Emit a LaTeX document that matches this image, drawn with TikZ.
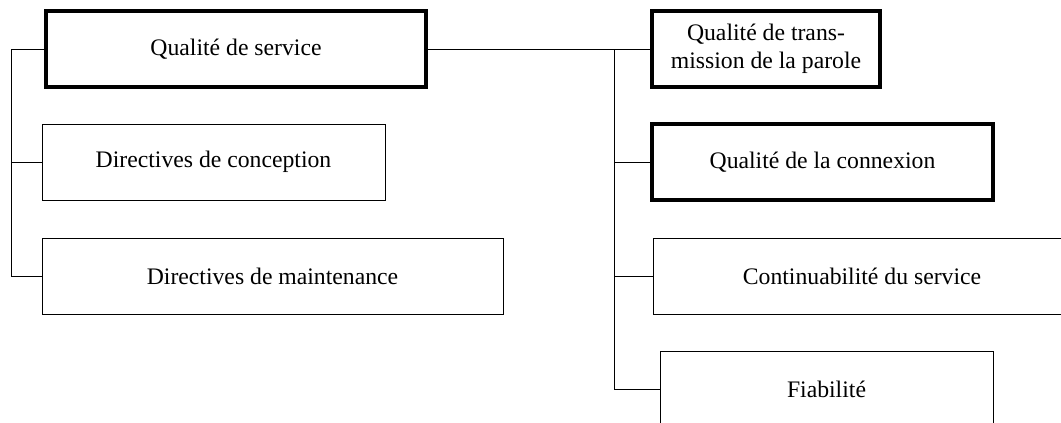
\documentclass[tikz,border=0pt]{standalone}
\usepackage{fontspec}
\setmainfont{Liberation Serif}
\usepackage{tikz}

\tikzset{
  boxthin/.style={draw=black, line width=0.5pt, rectangle, inner sep=0pt,
    minimum height=38pt, align=center, font=\fontsize{11.85}{14}\selectfont},
  boxthick/.style={boxthin, line width=1.6pt},
  link/.style={draw=black, line width=0.5pt}
}

\begin{document}
\begin{tikzpicture}[x=0.5pt,y=-0.5pt]
                \useasboundingbox (0,0) rectangle (1061,423);
                \clip (0,0) rectangle (1061,423);
                % left group
                \node [boxthick, minimum width=190pt] (qos) at (236,49) {Qualit\'e de service};
                \node [boxthin, minimum width=171.5pt] (dirc) at (213.5,162) {Directives de conception};
                \node [boxthin, minimum width=230.5pt] (dirm) at (272.5,276) {Directives de maintenance};
                % right group
                \node [boxthick, minimum width=114pt] (qtp) at (766,49) {Qualit\'e de trans-\\mission de la parole};
                \node [boxthick, minimum width=170.5pt] (qcx) at (822.5,162) {Qualit\'e de la connexion};
                \node [boxthin, minimum width=209pt] (cont) at (862,276) {Continuabilit\'e du service};
                \node [boxthin, minimum width=166.5pt] (fiab) at (826.5,389) {Fiabilit\'e};
                % trunks
                \coordinate (ltrunk) at (11,49);
                \coordinate (rtrunk) at (614,49);
                \draw [link] (qos.west) -- (ltrunk) |- (dirm.west);
                \draw [link] (dirc.west) -- (dirc.west -| ltrunk);
                \draw [link] (qos.east) -- (qtp.west);
                \draw [link] (rtrunk) |- (fiab.west);
                \draw [link] (qcx.west) -- (qcx.west -| rtrunk);
                \draw [link] (cont.west) -- (cont.west -| rtrunk);
\end{tikzpicture}
\end{document}
